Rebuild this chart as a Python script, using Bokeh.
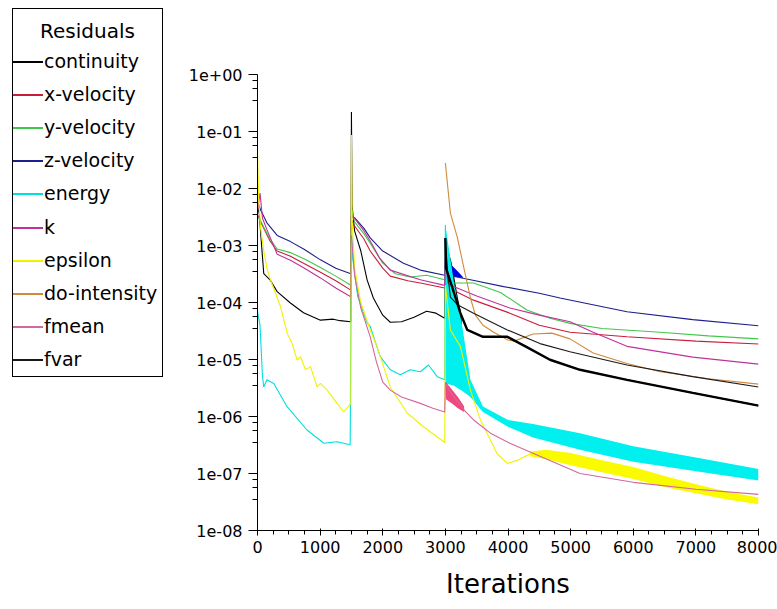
import numpy as np
from bokeh.plotting import figure
from bokeh.models import Range1d, FixedTicker, CustomJSTickFormatter, Div
from bokeh.layouts import row
from bokeh.embed import file_html
from bokeh.resources import INLINE

# ---------------- data ----------------
names = ["continuity", "x-velocity", "y-velocity", "z-velocity", "energy",
         "k", "epsilon", "do-intensity", "fmean", "fvar"]
colors = ["#000000", "#c81e3c", "#40c84a", "#1e1e8c", "#00dede",
          "#c0329a", "#f2f200", "#d08a3c", "#d2689c", "#1a1a1a"]

continuity_it = [0, 30, 60, 100, 200, 314, 526, 735, 1005, 1210, 1320, 1490,
                 1500, 1510, 1550, 1650, 1750, 1850, 2000, 2120, 2300, 2500, 2700, 2850, 2990,
                 3000, 3010, 3100, 3240, 3350, 3600, 3990, 4300, 4670, 5150, 5900, 6950, 8000]
continuity_res = [5e-3, 3.5e-3, 1.2e-3, 3.2e-4, 2.5e-4, 1.55e-4, 9.8e-5, 6.6e-5, 4.9e-5, 5.1e-5, 4.8e-5, 4.6e-5,
                  0.22, 5e-3, 1.8e-3, 8e-4, 2.5e-4, 1.2e-4, 6e-5, 4.5e-5, 4.6e-5, 5.5e-5, 7e-5, 6.5e-5, 5.3e-5,
                  1.35e-3, 4e-4, 2e-4, 6.5e-5, 3.3e-5, 2.5e-5, 2.5e-5, 1.65e-5, 9.9e-6, 6.6e-6, 4.4e-6, 2.6e-6, 1.55e-6]
continuity_band_it = [3000, 3050, 3100, 3150, 3200, 3260]
continuity_band_hi = [1.35e-3, 8e-4, 5e-4, 2.5e-4, 1.2e-4, 6e-5]
continuity_band_lo = [1.5e-4, 1.3e-4, 1.1e-4, 8e-5, 5.5e-5, 4e-5]

xvel_it = [0, 50, 100, 200, 314, 526, 750, 1005, 1250, 1490,
           1500, 1550, 1700, 1800, 2000, 2120, 2400, 2600, 2990,
           3000, 3040, 3200, 3450, 4030, 4500, 4990, 5900, 7000, 8000]
xvel_res = [3.5e-3, 2.6e-3, 2e-3, 1.2e-3, 8e-4, 6.5e-4, 4.8e-4, 3.4e-4, 2.4e-4, 1.65e-4,
            2.8e-3, 2.2e-3, 1.3e-3, 8e-4, 4e-4, 2.9e-4, 2.4e-4, 2.2e-4, 1.8e-4,
            4e-4, 2e-4, 1.5e-4, 1.1e-4, 6.5e-5, 4e-5, 3e-5, 2.5e-5, 2.1e-5, 1.87e-5]

yvel_it = [0, 50, 100, 200, 314, 526, 750, 1005, 1250, 1490,
           1500, 1550, 1700, 1800, 2000, 2200, 2440, 2700, 2990,
           3000, 3040, 3130, 3450, 3880, 4300, 4670, 4990, 5500, 6430, 7200, 8000]
yvel_res = [3.2e-3, 2.7e-3, 2.1e-3, 1.3e-3, 8.7e-4, 7.5e-4, 5.8e-4, 4.1e-4, 2.9e-4, 2e-4,
            4.5e-3, 2.6e-3, 1.6e-3, 1.1e-3, 4.9e-4, 3.2e-4, 2.8e-4, 3e-4, 2.5e-4,
            5e-4, 2.6e-4, 2.2e-4, 2.2e-4, 1.5e-4, 7.4e-5, 5.3e-5, 4.3e-5, 3.5e-5, 3e-5, 2.6e-5, 2.3e-5]

zvel_it = [0, 50, 150, 314, 526, 750, 1005, 1250, 1490,
           1500, 1560, 1700, 1800, 2000, 2330, 2600, 2990,
           3000, 3040, 3400, 3930, 4500, 4830, 5900, 6950, 8000]
zvel_res = [6e-3, 4.2e-3, 2.5e-3, 1.5e-3, 1.17e-3, 8.5e-4, 5.6e-4, 4e-4, 3.2e-4,
            3.3e-3, 3e-3, 2e-3, 1.36e-3, 8e-4, 4.9e-4, 3.7e-4, 3e-4,
            5e-4, 3e-4, 2.5e-4, 1.9e-4, 1.45e-4, 1.2e-4, 6.9e-5, 5e-5, 3.9e-5]
zvel_band_it = [3010, 3050, 3100, 3200, 3280]
zvel_band_hi = [6e-4, 5.5e-4, 4.5e-4, 3.5e-4, 2.8e-4]
zvel_band_lo = [2.8e-4, 2.8e-4, 2.8e-4, 2.8e-4, 2.7e-4]

energy_it = [0, 40, 80, 100, 150, 260, 470, 790, 1060, 1270, 1480,
             1500, 1520, 1600, 1750, 1800, 1960, 2120, 2280, 2440, 2600, 2730, 2870, 2990, 3000]
energy_res = [7e-5, 4e-5, 5e-6, 3.3e-6, 4.4e-6, 3.8e-6, 1.5e-6, 5.8e-7, 3.4e-7, 3.6e-7, 3.2e-7,
              2e-3, 6e-4, 1.27e-4, 4.4e-5, 3.8e-5, 1.12e-5, 6.6e-6, 5.4e-6, 6.6e-6, 6.1e-6, 8e-6, 5e-6, 4.4e-6, 2.3e-3]
energy_band_it = [3000, 3130, 3270, 3400, 3600, 4000, 4400, 5150, 6000, 7000, 8000]
energy_band_hi = [2.3e-3, 2.5e-4, 3.8e-5, 4.4e-6, 1.5e-6, 8.7e-7, 7.4e-7, 5.1e-7, 3e-7, 1.9e-7, 1.2e-7]
energy_band_lo = [3.8e-6, 3.5e-6, 2.8e-6, 2.2e-6, 1.2e-6, 6.6e-7, 4.3e-7, 2.6e-7, 1.6e-7, 1.1e-7, 7.5e-8]

k_it = [0, 40, 80, 150, 314, 526, 750, 1005, 1250, 1490,
        1500, 1550, 1700, 1800, 1950, 2120, 2600, 2990,
        3000, 3040, 3130, 3500, 4030, 4500, 4990, 5360, 5900, 6950, 8000]
k_res = [4e-3, 8.3e-3, 3e-3, 1.9e-3, 7e-4, 5.5e-4, 4e-4, 2.7e-4, 1.8e-4, 1.26e-4,
         3.5e-3, 3e-3, 1.8e-3, 1.2e-3, 6e-4, 3.7e-4, 2.5e-4, 2e-4,
         6e-4, 2.2e-4, 1.9e-4, 1.3e-4, 8e-5, 6e-5, 4.6e-5, 3e-5, 1.7e-5, 1.1e-5, 8.3e-6]

epsilon_it = [0, 20, 50, 100, 150, 207, 367, 474, 553, 633, 686, 766, 845, 952, 1005, 1112, 1271, 1377, 1490,
              1500, 1510, 1550, 1650, 1800, 1910, 2120, 2390, 2650, 2990,
              3000, 3080, 3240, 3400, 3560, 3830, 3990, 4150, 4350]
epsilon_res = [4.7e-2, 6e-3, 2e-3, 8e-4, 4e-4, 2.5e-4, 8.5e-5, 2.9e-5, 1.9e-5, 9.8e-6, 1.12e-5, 6.6e-6, 7.5e-6,
               3.3e-6, 3.8e-6, 2.9e-6, 1.7e-6, 1.2e-6, 1.7e-6,
               8.7e-2, 3e-3, 4e-4, 1e-4, 3.3e-5, 1.67e-5, 3.3e-6, 1.15e-6, 6.6e-7, 3.5e-7,
               2e-4, 3.3e-5, 1.7e-5, 2.9e-6, 8.7e-7, 2.2e-7, 1.5e-7, 1.7e-7, 2.2e-7]
epsilon_band_it = [4350, 4600, 5000, 5500, 6000, 6500, 7000, 7500, 8000]
epsilon_band_hi = [2.4e-7, 2.6e-7, 2.3e-7, 1.7e-7, 1.3e-7, 9e-8, 6.5e-8, 4.8e-8, 3.8e-8]
epsilon_band_lo = [2.0e-7, 1.8e-7, 1.4e-7, 1.05e-7, 8e-8, 5.8e-8, 4.5e-8, 3.5e-8, 2.9e-8]

dointensity_it = [3000, 3080, 3190, 3290, 3400, 3480, 3600, 3770, 4000, 4100, 4400, 4700, 4990,
                  5360, 5900, 6430, 7200, 8000]
dointensity_res = [2.8e-2, 3.7e-3, 1.4e-3, 4.3e-4, 1.2e-4, 6e-5, 4e-5, 3e-5, 2.2e-5, 2.1e-5, 2.8e-5, 2.9e-5, 2.3e-5,
                   1.3e-5, 8.5e-6, 6.1e-6, 4.6e-6, 3.7e-6]

fmean_it = [1500, 1550, 1650, 1800, 1900, 2000, 2120, 2300, 2600, 2800, 2990,
            3000, 3050, 3200, 3300, 3450, 3720, 4030, 4510, 5150, 6000, 7000, 8000]
fmean_res = [1.5e-3, 3e-4, 8e-5, 2.5e-5, 9e-6, 4e-6, 2.9e-6, 2.2e-6, 1.7e-6, 1.4e-6, 1.2e-6,
             4e-6, 3e-6, 1.8e-6, 1.3e-6, 8.7e-7, 5.1e-7, 3.4e-7, 2e-7, 1e-7, 7e-8, 5.3e-8, 4.3e-8]
fmean_band_it = [3010, 3100, 3200, 3300]
fmean_band_hi = [4e-6, 3e-6, 2.2e-6, 1.5e-6]
fmean_band_lo = [2e-6, 1.7e-6, 1.4e-6, 1.2e-6]

fvar_it = [3000, 3040, 3080, 3200, 3450, 3990, 4510, 4990, 5900, 6950, 8000]
fvar_res = [1.2e-3, 3e-4, 1.24e-4, 9e-5, 6.5e-5, 3.3e-5, 1.9e-5, 1.37e-5, 8e-6, 5e-6, 3.3e-6]

x_major = [0, 1000, 2000, 3000, 4000, 5000, 6000, 7000, 8000]
y_major = [1e-8, 1e-7, 1e-6, 1e-5, 1e-4, 1e-3, 1e-2, 1e-1, 1.0]

series = [
    (continuity_it, continuity_res), (xvel_it, xvel_res), (yvel_it, yvel_res),
    (zvel_it, zvel_res), (energy_it, energy_res), (k_it, k_res),
    (epsilon_it, epsilon_res), (dointensity_it, dointensity_res),
    (fmean_it, fmean_res), (fvar_it, fvar_res),
]

FONT = "DejaVu Sans"

# ---------------- layout constants (pixels) ----------------
W, H = 777, 609
LEG_W = 180                                   # width of the legend panel
FL, FR, FT, FB = 257, 758, 74, 530            # plot frame edges (page coords)
BOX_L, BOX_T, BOX_W, BOX_H = 12, 8, 151, 369  # legend box
TITLE_CY = 31
ITEM_CY0 = 61
PITCH = 33

# ---------------- main plot ----------------
p = figure(width=W - LEG_W, height=H, y_axis_type="log",
           x_range=Range1d(0, 8000), y_range=Range1d(1e-8, 1.0),
           output_backend="svg", toolbar_location=None,
           min_border_left=FL - LEG_W, min_border_right=W - FR,
           min_border_top=FT, min_border_bottom=H - FB)
p.grid.visible = False
p.outline_line_color = None
p.background_fill_color = "white"
p.border_fill_color = "white"

x_minor = list(range(0, 8001, 250))
y_minor = [m * 10.0 ** e for e in range(-8, 0) for m in (3.43, 5.57, 7.85)]
p.xaxis.ticker = FixedTicker(ticks=x_major, minor_ticks=x_minor)
p.yaxis.ticker = FixedTicker(ticks=y_major, minor_ticks=y_minor)
p.yaxis.formatter = CustomJSTickFormatter(code="""
const e = Math.round(Math.log10(tick));
const a = Math.abs(e);
return "1e" + (e < 0 ? "-" : "+") + (a < 10 ? "0" : "") + a;
""")

for ax in (p.xaxis[0], p.yaxis[0]):
    ax.axis_line_color = "black"
    ax.major_tick_line_color = "black"
    ax.minor_tick_line_color = "black"
    ax.major_label_text_font = FONT
    ax.major_label_text_font_size = "16px"
    ax.major_label_text_color = "black"

p.yaxis.major_tick_out = 9
p.yaxis.major_tick_in = 0
p.yaxis.minor_tick_out = 5
p.yaxis.minor_tick_in = 0
p.yaxis.major_label_standoff = 6

p.xaxis.major_tick_out = 5
p.xaxis.major_tick_in = 2
p.xaxis.minor_tick_out = 4
p.xaxis.minor_tick_in = 0
p.xaxis.major_label_standoff = 5
p.xaxis.axis_label = "Iterations"
p.xaxis.axis_label_text_font = FONT
p.xaxis.axis_label_text_font_size = "26px"
p.xaxis.axis_label_text_font_style = "normal"
p.xaxis.axis_label_text_color = "black"
p.xaxis.axis_label_standoff = 13

bands = {
    0: (continuity_band_it, continuity_band_lo, continuity_band_hi, "#000000"),
    3: (zvel_band_it, zvel_band_lo, zvel_band_hi, "#0000e6"),
    4: (energy_band_it, energy_band_lo, energy_band_hi, "#00f0f0"),
    6: (epsilon_band_it, epsilon_band_lo, epsilon_band_hi, "#fafa00"),
    8: (fmean_band_it, fmean_band_lo, fmean_band_hi, "#f0487e"),
}

for i, (it, res) in enumerate(series):
    if i in bands:
        bi, lo, hi, bc = bands[i]
        p.varea(x=bi, y1=lo, y2=hi, fill_color=bc, fill_alpha=1.0)
    p.line(it, res, line_color=colors[i], line_width=1.1)

# thicker (noisy) continuity trace in the last run
it_arr = np.array(continuity_it)
res_arr = np.array(continuity_res)
mask = it_arr >= 3000
p.line(it_arr[mask], res_arr[mask], line_color="#000000", line_width=2.4)

# ---------------- legend panel (left of the plot) ----------------
inner_top = BOX_T + 1  # inside the 1px border
rows_html = []
for i, (n, c) in enumerate(zip(names, colors)):
    top = int(round(ITEM_CY0 + i * 33.1 - PITCH // 2 - inner_top))
    rows_html.append(
        f'<div style="position:absolute;left:0px;top:{top}px;height:{PITCH}px;'
        f'display:flex;align-items:center;white-space:nowrap;">'
        f'<span style="display:inline-block;width:30px;height:2px;background:{c};"></span>'
        f'<span style="margin-left:1px;font-size:19px;line-height:{PITCH}px;">{n}</span></div>'
    )
title_top = TITLE_CY - 12 - inner_top
legend_html = (
    f'<div style="position:relative;width:{LEG_W}px;height:{H}px;'
    f'font-family:\'DejaVu Sans\';color:#000;background:#fff;">'
    f'<div style="position:absolute;left:{BOX_L}px;top:{BOX_T}px;width:{BOX_W}px;height:{BOX_H}px;'
    f'border:1px solid #000;box-sizing:border-box;background:#fff;">'
    f'<div style="position:absolute;left:0px;width:100%;top:{title_top}px;height:24px;'
    f'line-height:24px;text-align:center;font-size:20px;white-space:nowrap;">Residuals</div>'
    + "".join(rows_html) +
    '</div></div>'
)
leg = Div(text=legend_html, width=LEG_W, height=H, margin=0)

layout = row(leg, p, spacing=0)
open("out.html", "w").write(file_html(layout, INLINE))
